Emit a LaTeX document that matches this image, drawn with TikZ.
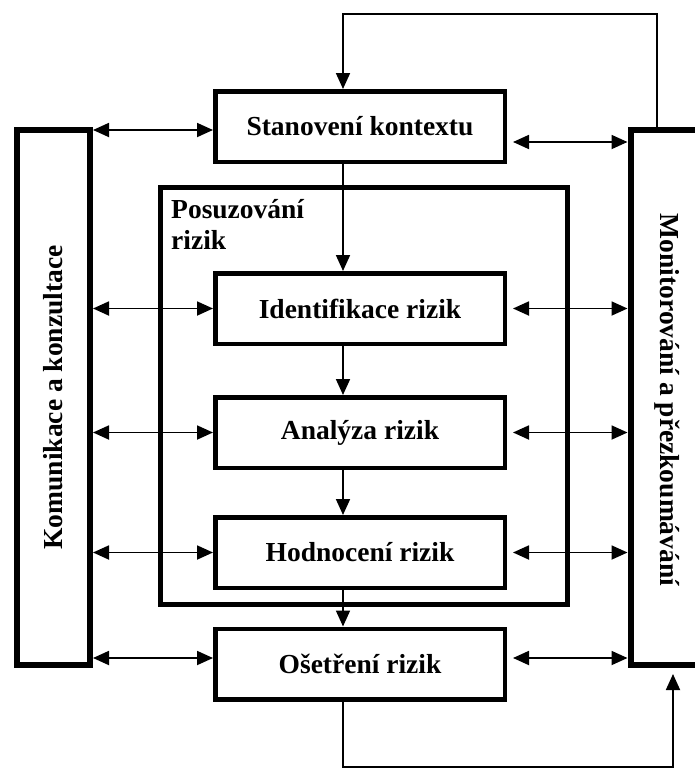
\documentclass[tikz,border=0pt]{standalone}
\usepackage{fontspec}
\setmainfont{Liberation Serif}
\usetikzlibrary{arrows.meta,calc}
\tikzset{
  lbl/.style={font=\fontsize{27.5}{31}\selectfont\bfseries},
  stepbox/.style={draw, line width=4.5pt, minimum width=289.5pt, minimum height=70.5pt, inner sep=0pt, lbl},
  sidebox/.style={draw, line width=6pt, minimum width=73pt, minimum height=535pt, inner sep=0pt},
  groupbox/.style={draw, line width=5pt, minimum width=407pt, minimum height=417pt, inner sep=0pt},
  conn/.style={line width=1.8pt},
  tip/.tip={Triangle[length=16pt,width=14pt]},
  biarrow/.style={conn, tip-tip},
  onearrow/.style={conn, -tip},
}
\begin{document}
\begin{tikzpicture}[x=1pt,y=-1pt]
\useasboundingbox (0,0) rectangle (695,769);
\clip (0,0) rectangle (695,769);
\fill[white] (0,0) rectangle (695,769);
% group box
\node[groupbox] (pos) at (364,396) {};
\node[lbl, anchor=north west, align=left, inner sep=0pt] (poslbl) at (171,199) {Posuzování\\rizik};
% side boxes
\node[sidebox] (kom) at (53.5,397.5) {};
\node[lbl, rotate=90] (komlbl) at (kom) {Komunikace a konzultace};
\node[sidebox] (mon) at (667,397.5) {};
\node[lbl, rotate=-90] (monlbl) at (667,400) {Monitorování a přezkoumávání};
% step boxes
\node[stepbox] (stan) at (360,126.5) {Stanovení kontextu};
\node[stepbox] (ident) at (360,308.5) {Identifikace rizik};
\node[stepbox] (anal) at (360,432.5) {Analýza rizik};
\node[stepbox] (hodn) at (360,552.5) {Hodnocení rizik};
\node[stepbox] (oset) at (360,664) {Ošetření rizik};
% vertical chain
\draw[onearrow] ([xshift=-17pt]stan.south) -- ([xshift=-17pt]ident.north);
\draw[onearrow] ([xshift=-17pt]ident.south) -- ([xshift=-17pt]anal.north);
\draw[onearrow] ([xshift=-17pt]anal.south) -- ([xshift=-17pt]hodn.north);
\draw[onearrow] ([xshift=-17pt]hodn.south) -- ([xshift=-17pt]oset.north);
% top feedback
\coordinate (mt) at ([xshift=-10pt]mon.north);
\coordinate (st) at ([xshift=-17pt]stan.north);
\draw[onearrow] (mt) -- (mt |- 0,14) -- (st |- 0,14) -- (st);
% bottom feedback
\coordinate (ob) at ([xshift=-17pt]oset.south);
\coordinate (mb) at ([xshift=6pt]mon.south);
\draw[onearrow, shorten >=6pt] (ob) -- (ob |- 0,767) -- (mb |- 0,767) -- (mb);
% left arrows
\coordinate (sl) at ([yshift=-3.5pt]stan.west);
\coordinate (sr) at ([yshift=-15.5pt]stan.east);
\draw[biarrow] (sl -| kom.east) -- (sl);
\draw[biarrow] (ident.west -| kom.east) -- (ident.west);
\draw[biarrow] (anal.west -| kom.east) -- (anal.west);
\draw[biarrow] (hodn.west -| kom.east) -- (hodn.west);
\draw[biarrow] ([yshift=6pt]oset.west -| kom.east) -- ([yshift=6pt]oset.west);
% right arrows
\draw[biarrow, shorten <=6pt] (sr) -- (sr -| mon.west);
\draw[biarrow, shorten <=6pt] (ident.east) -- (ident.east -| mon.west);
\draw[biarrow, shorten <=6pt] (anal.east) -- (anal.east -| mon.west);
\draw[biarrow, shorten <=6pt] (hodn.east) -- (hodn.east -| mon.west);
\draw[biarrow, shorten <=6pt] ([yshift=6pt]oset.east) -- ([yshift=6pt]oset.east -| mon.west);
\end{tikzpicture}
\end{document}
